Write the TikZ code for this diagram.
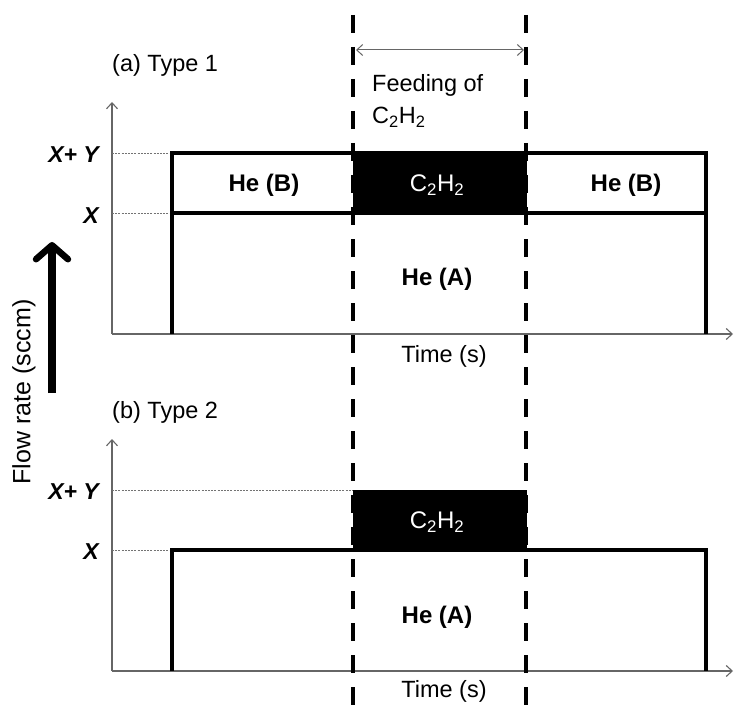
\documentclass[tikz,border=0pt]{standalone}
\usepackage{fontspec}
\setmainfont{Liberation Sans}
\usetikzlibrary{arrows.meta}
\begin{document}
\begin{tikzpicture}[x=1pt,y=-1pt,
  axis/.style={draw=black!60,line width=1.1pt,-{Straight Barb[length=6pt,width=11pt]}},
  guide/.style={draw=black!55,line width=0.9pt,dash pattern=on 2pt off 1.2pt},
  flow/.style={draw=black,line width=3.2pt,line join=miter},
  feedline/.style={draw=black,line width=4.5pt,dash pattern=on 18pt off 14pt},
  lbl/.style={font=\fontsize{23.5}{27}\selectfont,inner sep=0pt},
  gas/.style={font=\fontsize{24}{28}\selectfont\bfseries,inner sep=0pt},
  lev/.style={font=\fontsize{23}{26}\selectfont\bfseries\itshape,inner sep=0pt,anchor=east}]
\useasboundingbox (0,0) rectangle (734,706);
% ---------- top chart ----------
\coordinate (a0) at (112,334);
\coordinate (atop) at (112,102);
\coordinate (aright) at (733,334);
\coordinate (aXY) at (112,153);
\coordinate (aX) at (112,213);
\coordinate (bXY) at (172,153);
\coordinate (bX) at (172,213);
\draw[axis] (a0) -- (atop);
\draw[axis] (a0) -- (aright);
\draw[guide] (aXY) -- (bXY);
\draw[guide] (aX) -- (bX);
\fill[black] (353,153) rectangle (527,213);
\draw[flow] (172,334) -- (bXY) -- (706,153) -- (706,334);
\draw[flow] (bX) -- (706,213);
\node[gas] (heb1) at (264,185) {He (B)};
\node[gas] (heb2) at (626,185) {He (B)};
\node[gas,text=white,font=\fontsize{24}{28}\selectfont] (c1) at (437,185) {C\textsubscript{2}H\textsubscript{2}};
\node[gas] (hea1) at (437,279) {He (A)};
\node[lbl] (t1) at (444,356) {Time (s)};
\node[lbl,anchor=west] (ty1) at (112,65) {(a) Type 1};
\node[lev] (xy1) at (99,155) {X+ Y};
\node[lev] (x1) at (99,216) {X};
% ---------- bottom chart ----------
\coordinate (b0) at (112,671);
\coordinate (btop) at (112,439);
\coordinate (bright) at (733,671);
\coordinate (cXY) at (112,490);
\coordinate (cX) at (112,550);
\coordinate (dXY) at (353,490);
\coordinate (dX) at (172,550);
\draw[axis] (b0) -- (btop);
\draw[axis] (b0) -- (bright);
\draw[guide] (cXY) -- (dXY);
\draw[guide] (cX) -- (dX);
\fill[black] (353,490) rectangle (527,550);
\draw[flow] (172,671) -- (dX) -- (706,550) -- (706,671);
\node[gas,text=white,font=\fontsize{24}{28}\selectfont] (c2) at (437,522) {C\textsubscript{2}H\textsubscript{2}};
\node[gas] (hea2) at (437,617) {He (A)};
\node[lbl] (t2) at (444,691) {Time (s)};
\node[lbl,anchor=west] (ty2) at (112,412) {(b) Type 2};
\node[lev] (xy2) at (99,492) {X+ Y};
\node[lev] (x2) at (99,552) {X};
% ---------- feeding window ----------
\coordinate (dl1) at (353,15);
\coordinate (dl2) at (353,706);
\coordinate (dr1) at (526,15);
\coordinate (dr2) at (526,706);
\draw[feedline] (dl1) -- (dl2);
\draw[feedline] (dr1) -- (dr2);
\coordinate (fa) at (356,50);
\coordinate (fb) at (524,50);
\draw[draw=black!60,line width=1pt,{Straight Barb[length=6pt,width=11pt]}-{Straight Barb[length=6pt,width=11pt]}] (fa) -- (fb);
\node[lbl,anchor=west,align=left] (feed) at (372,101) {Feeding of\\[5pt]C\textsubscript{2}H\textsubscript{2}};
% ---------- flow-rate arrow ----------
\coordinate (fr0) at (52,393);
\coordinate (fr1) at (52,242);
\draw[line width=7.5pt,-{Straight Barb[length=14pt,width=32pt,line width=6.5pt,round]}] (fr0) -- (fr1);
\node[lbl,rotate=90,font=\fontsize{25}{28}\selectfont] (frl) at (24,392) {Flow rate (sccm)};
\end{tikzpicture}
\end{document}
